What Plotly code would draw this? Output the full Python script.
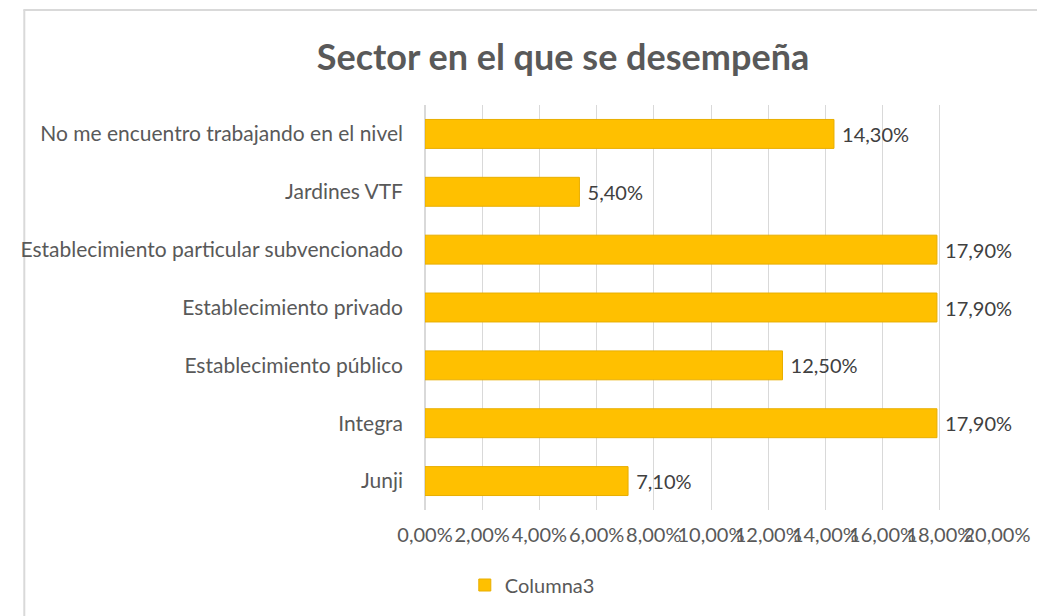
import plotly.graph_objects as go

categories = [
    "Junji",
    "Integra",
    "Establecimiento público",
    "Establecimiento privado",
    "Establecimiento particular subvencionado",
    "Jardines VTF",
    "No me encuentro trabajando en el nivel",
]
values = [0.071, 0.179, 0.125, 0.179, 0.179, 0.054, 0.143]
series_name = "Columna3"
tick_vals = [0.0, 0.02, 0.04, 0.06, 0.08, 0.10, 0.12, 0.14, 0.16, 0.18, 0.20]

# page has an 8px body margin, so the figure is 8px smaller than the window
W, H = 1037, 608
L, R, T, B = 408, 48, 97, 106
pw = W - L - R
ph = H - T - B

FONT = "Lato"
GREY = "#595959"

fig = go.Figure()
fig.add_trace(go.Bar(
    y=categories,
    x=values,
    orientation="h",
    name=series_name,
    marker=dict(color="#FFC000", line=dict(color="#E8AE00", width=1)),
    texttemplate=" %{x:.2%}",
    textposition="outside",
    textfont=dict(family=FONT, size=20, color="#404040"),
    cliponaxis=False,
    showlegend=True,
))

fig.update_layout(
    width=W, height=H,
    margin=dict(l=L, r=R, t=T, b=B),
    paper_bgcolor="white",
    plot_bgcolor="white",
    separators=",.",
    font=dict(family=FONT, color=GREY, size=20),
    bargap=0.5,
    title=dict(
        text="<b>Sector en el que se desempeña</b>",
        x=555 / W, xref="container", xanchor="center",
        y=1 - 49 / H, yref="container", yanchor="middle",
        font=dict(family=FONT, size=36, color=GREY),
    ),
    xaxis=dict(
        range=[0, 0.20],
        tickvals=tick_vals,
        tickformat=".2%",
        tickangle=0,
        showgrid=True,
        gridcolor="#D9D9D9",
        gridwidth=1,
        zeroline=True,
        zerolinecolor="#D9D9D9",
        showline=False,
        ticks="",
        ticklabelstandoff=11,
        tickfont=dict(family=FONT, size=20, color=GREY),
    ),
    yaxis=dict(
        categoryorder="array",
        categoryarray=categories,
        showgrid=False,
        zeroline=False,
        showline=False,
        ticks="",
        ticklabelstandoff=21,
        tickfont=dict(family=FONT, size=21, color=GREY),
    ),
    legend=dict(
        orientation="h",
        x=(517 - L) / pw, xanchor="center",
        y=(T + ph - 577) / ph, yanchor="middle",
        font=dict(family=FONT, size=20, color=GREY),
        itemwidth=30,
    ),
    shapes=[
        dict(type="line", xref="paper", yref="paper",
             x0=(1 - L) / pw, x1=(1 - L) / pw,
             y0=(T + ph - H - 5) / ph, y1=(T + ph - 2) / ph,
             line=dict(color="#D9D9D9", width=2), layer="below"),
        dict(type="line", xref="paper", yref="paper",
             x0=(0 - L) / pw, x1=(W + 5 - L) / pw,
             y0=(T + ph - 2) / ph, y1=(T + ph - 2) / ph,
             line=dict(color="#D9D9D9", width=2), layer="below"),
    ],
)

fig.write_html("out.html")
